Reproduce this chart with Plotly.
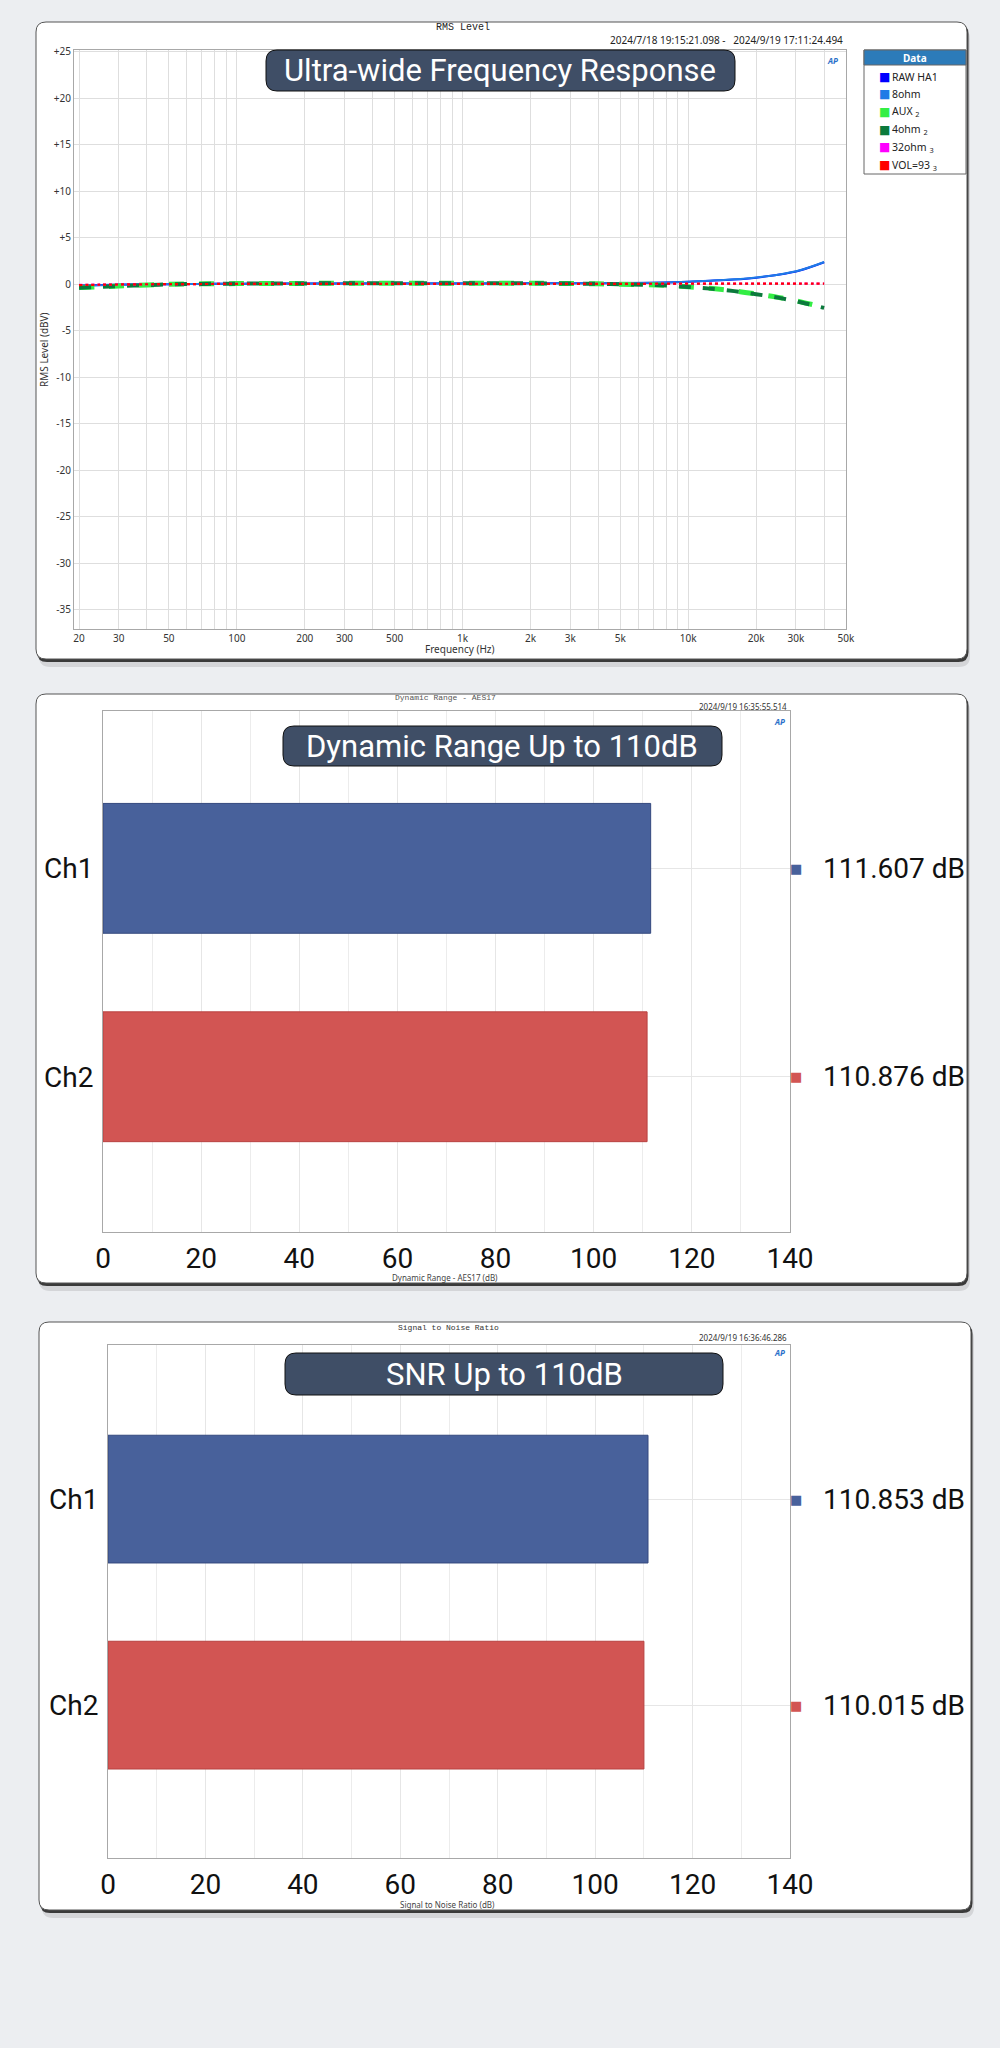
import math
import plotly.graph_objects as go

W, H = 1000, 2048

# ---------------- data ----------------
freq_hz = [20, 25, 31.5, 40, 50, 63, 80, 100, 125, 160, 200, 250, 315, 400, 500, 630, 800,
           1000, 1250, 1600, 2000, 2500, 3150, 4000, 5000, 6300, 8000, 10000, 12500, 16000,
           20000, 25000, 31500, 40000]
raw_ha1 = [-0.15, -0.10, -0.05, -0.02, 0.00, 0.02, 0.04, 0.05, 0.06, 0.07, 0.07, 0.08, 0.08, 0.08,
           0.08, 0.08, 0.08, 0.08, 0.08, 0.08, 0.09, 0.09, 0.09, 0.10, 0.11, 0.13, 0.18, 0.26,
           0.36, 0.50, 0.70, 1.00, 1.50, 2.35]
ohm8 = [-0.18, -0.12, -0.06, -0.03, 0.00, 0.02, 0.04, 0.05, 0.06, 0.07, 0.08, 0.08, 0.09, 0.09,
        0.09, 0.09, 0.09, 0.09, 0.09, 0.10, 0.10, 0.10, 0.10, 0.11, 0.12, 0.14, 0.19, 0.27,
        0.37, 0.52, 0.72, 1.02, 1.52, 2.38]
aux = [-0.35, -0.28, -0.18, -0.08, -0.02, 0.02, 0.04, 0.06, 0.07, 0.08, 0.08, 0.09, 0.09, 0.10,
       0.10, 0.10, 0.10, 0.10, 0.10, 0.10, 0.09, 0.08, 0.06, 0.03, 0.00, -0.05, -0.13, -0.28,
       -0.45, -0.72, -1.05, -1.42, -1.90, -2.50]
ohm4 = [-0.38, -0.30, -0.20, -0.10, -0.03, 0.01, 0.04, 0.05, 0.07, 0.08, 0.08, 0.09, 0.09, 0.09,
        0.10, 0.10, 0.10, 0.10, 0.10, 0.10, 0.09, 0.08, 0.06, 0.03, -0.01, -0.06, -0.15, -0.30,
        -0.48, -0.75, -1.08, -1.45, -1.95, -2.55]
ohm32 = [-0.08, -0.05, -0.03, -0.01, 0.00, 0.01, 0.02, 0.03, 0.03, 0.04, 0.04, 0.04, 0.04, 0.04,
         0.04, 0.04, 0.04, 0.04, 0.04, 0.04, 0.04, 0.04, 0.04, 0.04, 0.04, 0.04, 0.04, 0.04,
         0.05, 0.05, 0.05, 0.05, 0.05, 0.05]
vol93 = [-0.10, -0.06, -0.03, -0.01, 0.00, 0.01, 0.02, 0.03, 0.03, 0.04, 0.04, 0.04, 0.04, 0.04,
         0.04, 0.04, 0.04, 0.04, 0.04, 0.04, 0.04, 0.04, 0.04, 0.04, 0.04, 0.04, 0.05, 0.05,
         0.05, 0.05, 0.05, 0.06, 0.06, 0.06]

series_names = ["RAW HA1", "8ohm", "AUX <sub>2</sub>", "4ohm <sub>2</sub>", "32ohm <sub>3</sub>", "VOL=93 <sub>3</sub>"]
series_values = [raw_ha1, ohm8, aux, ohm4, ohm32, vol93]
series_colors = ["#0000ff", "#1e7be6", "#33ee44", "#0b7a3c", "#ff00ff", "#ff0000"]

freq_tick_vals = [20, 30, 50, 100, 200, 300, 500, 1000, 2000, 3000, 5000, 10000, 20000, 30000, 50000]
freq_tick_text = ["20", "30", "50", "100", "200", "300", "500", "1k", "2k", "3k", "5k", "10k", "20k", "30k", "50k"]
freq_minor_grid = [40, 60, 70, 80, 90, 400, 600, 700, 800, 900, 4000, 6000, 7000, 8000, 9000, 40000]
level_tick_vals = [25, 20, 15, 10, 5, 0, -5, -10, -15, -20, -25, -30, -35]
level_tick_text = ["+25", "+20", "+15", "+10", "+5", "0", "-5", "-10", "-15", "-20", "-25", "-30", "-35"]

channels = ["Ch1", "Ch2"]
dynamic_range_db = [111.607, 110.876]
snr_db = [110.853, 110.015]
bar_colors = ["#48619b", "#d25553"]
bar_line_colors = ["#34497e", "#b84240"]
bar_tick_vals = [0, 20, 40, 60, 80, 100, 120, 140]

# ---------------- helpers ----------------
def X(px):
    return px / W

def Y(py):
    return 1 - py / H

def rrect_path(x0, y0, x1, y1, r):
    return (f"M {X(x0 + r)},{Y(y0)} L {X(x1 - r)},{Y(y0)} Q {X(x1)},{Y(y0)} {X(x1)},{Y(y0 + r)} "
            f"L {X(x1)},{Y(y1 - r)} Q {X(x1)},{Y(y1)} {X(x1 - r)},{Y(y1)} "
            f"L {X(x0 + r)},{Y(y1)} Q {X(x0)},{Y(y1)} {X(x0)},{Y(y1 - r)} "
            f"L {X(x0)},{Y(y0 + r)} Q {X(x0)},{Y(y0)} {X(x0 + r)},{Y(y0)} Z")

FONT = "Roboto"
SMALL = "Noto Sans"
PAGE_BG = "#eceef1"

def ann(x, y, text, size, color="#222", family=SMALL, xanchor="center", yanchor="middle",
        xref="paper", yref="paper", **kw):
    xv = X(x) if xref == "paper" else x
    yv = Y(y) if yref == "paper" else y
    return dict(xref=xref, yref=yref, x=xv, y=yv, text=text, showarrow=False,
                xanchor=xanchor, yanchor=yanchor, font=dict(size=size, color=color, family=family), **kw)

fig = go.Figure()

# ---------------- chart 1: frequency response ----------------
line_styles = [
    dict(width=2, dash="solid"),
    dict(width=2, dash="solid"),
    dict(width=5, dash="dash"),
    dict(width=4, dash="dash"),
    dict(width=2.2, dash="dot"),
    dict(width=2.2, dash="dot"),
]
for name, vals, col, st in zip(series_names, series_values, series_colors, line_styles):
    fig.add_trace(go.Scatter(x=freq_hz, y=vals, mode="lines", name=name,
                             line=dict(color=col, width=st["width"], dash=st["dash"], shape="spline"),
                             xaxis="x", yaxis="y", showlegend=False, hoverinfo="skip"))

# ---------------- chart 2 & 3: bars ----------------
fig.add_trace(go.Bar(x=dynamic_range_db, y=channels, orientation="h", width=0.623,
                     marker=dict(color=bar_colors, line=dict(color=bar_line_colors, width=1)),
                     xaxis="x2", yaxis="y2", showlegend=False, hoverinfo="skip"))
fig.add_trace(go.Bar(x=snr_db, y=channels, orientation="h", width=0.62,
                     marker=dict(color=bar_colors, line=dict(color=bar_line_colors, width=1)),
                     xaxis="x3", yaxis="y3", showlegend=False, hoverinfo="skip"))

grid = "#dedede"
axis_line = "#a8a8a8"

layout = dict(
    width=W, height=H, margin=dict(l=0, r=0, t=0, b=0, pad=0, autoexpand=False),
    paper_bgcolor=PAGE_BG, plot_bgcolor="rgba(0,0,0,0)",
    showlegend=False, font=dict(family=SMALL, color="#222"),
    xaxis=dict(type="log", range=[math.log10(19.0), math.log10(50000)],
               domain=[X(74), X(846)], anchor="y", automargin=False,
               tickvals=freq_tick_vals, ticktext=freq_tick_text, tickangle=0,
               tickfont=dict(size=10, color="#333", family=SMALL),
               showgrid=True, gridcolor=grid, gridwidth=1, zeroline=False,
               minor=dict(tickvals=freq_minor_grid, showgrid=True, gridcolor=grid, ticks=""),
               showline=True, mirror=True, linecolor=axis_line, linewidth=1, ticks=""),
    yaxis=dict(range=[-37.05, 25.2], domain=[Y(629), Y(49.6)], anchor="x", automargin=False,
               tickvals=level_tick_vals, ticktext=level_tick_text,
               tickfont=dict(size=10, color="#333", family=SMALL),
               showgrid=True, gridcolor=grid, gridwidth=1, zeroline=False,
               showline=True, mirror=True, linecolor=axis_line, linewidth=1, ticks=""),
    xaxis2=dict(range=[0, 140], domain=[X(103), X(790)], anchor="y2", automargin=False,
                tickvals=bar_tick_vals, tickfont=dict(size=28, color="#111", family=FONT),
                showgrid=True, gridcolor="#e6e6e6", zeroline=False,
                minor=dict(dtick=10, showgrid=True, gridcolor="#ececec", ticks=""),
                showline=True, mirror=True, linecolor=axis_line, ticks="", ticklabelstandoff=1),
    yaxis2=dict(type="category", categoryarray=channels, range=[1.745, -0.755],
                domain=[Y(1232), Y(711)], anchor="x2", automargin=False,
                tickfont=dict(size=28, color="#111", family=FONT),
                showgrid=True, gridcolor="#e6e6e6", zeroline=False,
                showline=True, mirror=True, linecolor=axis_line, ticks="", ticklabelstandoff=3),
    xaxis3=dict(range=[0, 140], domain=[X(108), X(790)], anchor="y3", automargin=False,
                tickvals=bar_tick_vals, tickfont=dict(size=28, color="#111", family=FONT),
                showgrid=True, gridcolor="#e6e6e6", zeroline=False,
                minor=dict(dtick=10, showgrid=True, gridcolor="#ececec", ticks=""),
                showline=True, mirror=True, linecolor=axis_line, ticks="", ticklabelstandoff=1),
    yaxis3=dict(type="category", categoryarray=channels, range=[1.742, -0.748],
                domain=[Y(1858), Y(1345)], anchor="x3", automargin=False,
                tickfont=dict(size=28, color="#111", family=FONT),
                showgrid=True, gridcolor="#e6e6e6", zeroline=False,
                showline=True, mirror=True, linecolor=axis_line, ticks="", ticklabelstandoff=3),
)

shapes = []
annotations = []

cards = [(36, 22, 967, 659), (36, 694, 967, 1283), (39, 1322, 971, 1910)]
for (x0, y0, x1, y1) in cards:
    shapes.append(dict(type="path", xref="paper", yref="paper", layer="below",
                       path=rrect_path(x0 + 3, y0 + 6, x1 + 3, y1 + 8, 11),
                       fillcolor="rgba(0,0,0,0.10)", line=dict(width=0)))
    shapes.append(dict(type="path", xref="paper", yref="paper", layer="below",
                       path=rrect_path(x0 + 1, y0 + 2, x1 + 1.5, y1 + 3, 10),
                       fillcolor="#3a3a3a", line=dict(width=0)))
    shapes.append(dict(type="path", xref="paper", yref="paper", layer="below",
                       path=rrect_path(x0, y0, x1, y1, 10),
                       fillcolor="#ffffff", line=dict(color="#555555", width=1)))

# legend box (chart 1)
lx0, ly0, lx1, ly1 = 864, 50, 966, 174
shapes.append(dict(type="rect", xref="paper", yref="paper", layer="below",
                   x0=X(lx0), x1=X(lx1), y0=Y(ly1), y1=Y(ly0),
                   fillcolor="#ffffff", line=dict(color="#666666", width=1)))
shapes.append(dict(type="rect", xref="paper", yref="paper", layer="below",
                   x0=X(lx0), x1=X(lx1), y0=Y(65), y1=Y(ly0),
                   fillcolor="#2c7bb9", line=dict(color="#666666", width=1)))
annotations.append(ann((lx0 + lx1) / 2, 57.5, "<b>Data</b>", 10, color="white"))
for i, (name, col) in enumerate(zip(series_names, series_colors)):
    yy = 76.5 + i * 17.7
    annotations.append(ann(884, yy, "■", 12, color=col, family="DejaVu Sans"))
    annotations.append(ann(890, yy, name, 10.5, color="#222", xanchor="left"))

# header / axis texts
annotations += [
    ann(463, 27, "RMS Level", 10, family="Liberation Mono"),
    ann(845, 40, "2024/7/18 19:15:21.098 -   2024/9/19 17:11:24.494", 10, xanchor="right"),
    ann(460, 649, "Frequency (Hz)", 10, color="#333"),
    ann(44, 350, "RMS Level (dBV)", 10, color="#333", textangle=-90),
    ann(445, 697, "Dynamic Range - AES17", 8, color="#555", family="Liberation Mono"),
    ann(789, 706, "2024/9/19 16:35:55.514", 8, color="#333", xanchor="right"),
    ann(445, 1277, "Dynamic Range - AES17 (dB)", 8, color="#444"),
    ann(448, 1327, "Signal to Noise Ratio", 8, color="#333", family="Liberation Mono"),
    ann(789, 1337, "2024/9/19 16:36:46.286", 8, color="#333", xanchor="right"),
    ann(447, 1904, "Signal to Noise Ratio (dB)", 8, color="#444"),
]

# AP logos
for (ax, ay) in [(832, 60), (779, 721), (779, 1352)]:
    annotations.append(ann(ax, ay, "<b><i>AP</i></b>", 8, color="#2a6fc9"))

# value labels on the right of bar charts
for yref, vals in [("y2", dynamic_range_db), ("y3", snr_db)]:
    for ch, v, col in zip(channels, vals, bar_colors):
        annotations.append(ann(796, ch, "■", 13, color=col, family="DejaVu Sans", yref=yref))
        annotations.append(ann(821, ch, f"{v:.3f} dB", 28, color="#111", family=FONT,
                               xanchor="left", yref=yref))

# overlay title banners
banners = [((266, 50, 735, 91), "Ultra-wide Frequency Response"),
           ((283, 726, 722, 766), "Dynamic Range Up to 110dB"),
           ((285, 1353, 723, 1395), "SNR Up to 110dB")]
for (x0, y0, x1, y1), txt in banners:
    shapes.append(dict(type="path", xref="paper", yref="paper", layer="above",
                       path=rrect_path(x0, y0, x1, y1, 11),
                       fillcolor="#3f4e66", line=dict(color="#111111", width=1)))
    annotations.append(ann((x0 + x1) / 2, (y0 + y1) / 2, txt, 31, color="#ffffff", family=FONT))

layout["shapes"] = shapes
layout["annotations"] = annotations
fig.update_layout(**layout)

fig.write_html(
    "out.html",
    config={"displayModeBar": False},
    post_script=("document.body.style.margin='0';document.body.style.padding='0';"
                 f"document.body.style.background='{PAGE_BG}';"
                 "document.documentElement.style.overflow='hidden';"),
)
